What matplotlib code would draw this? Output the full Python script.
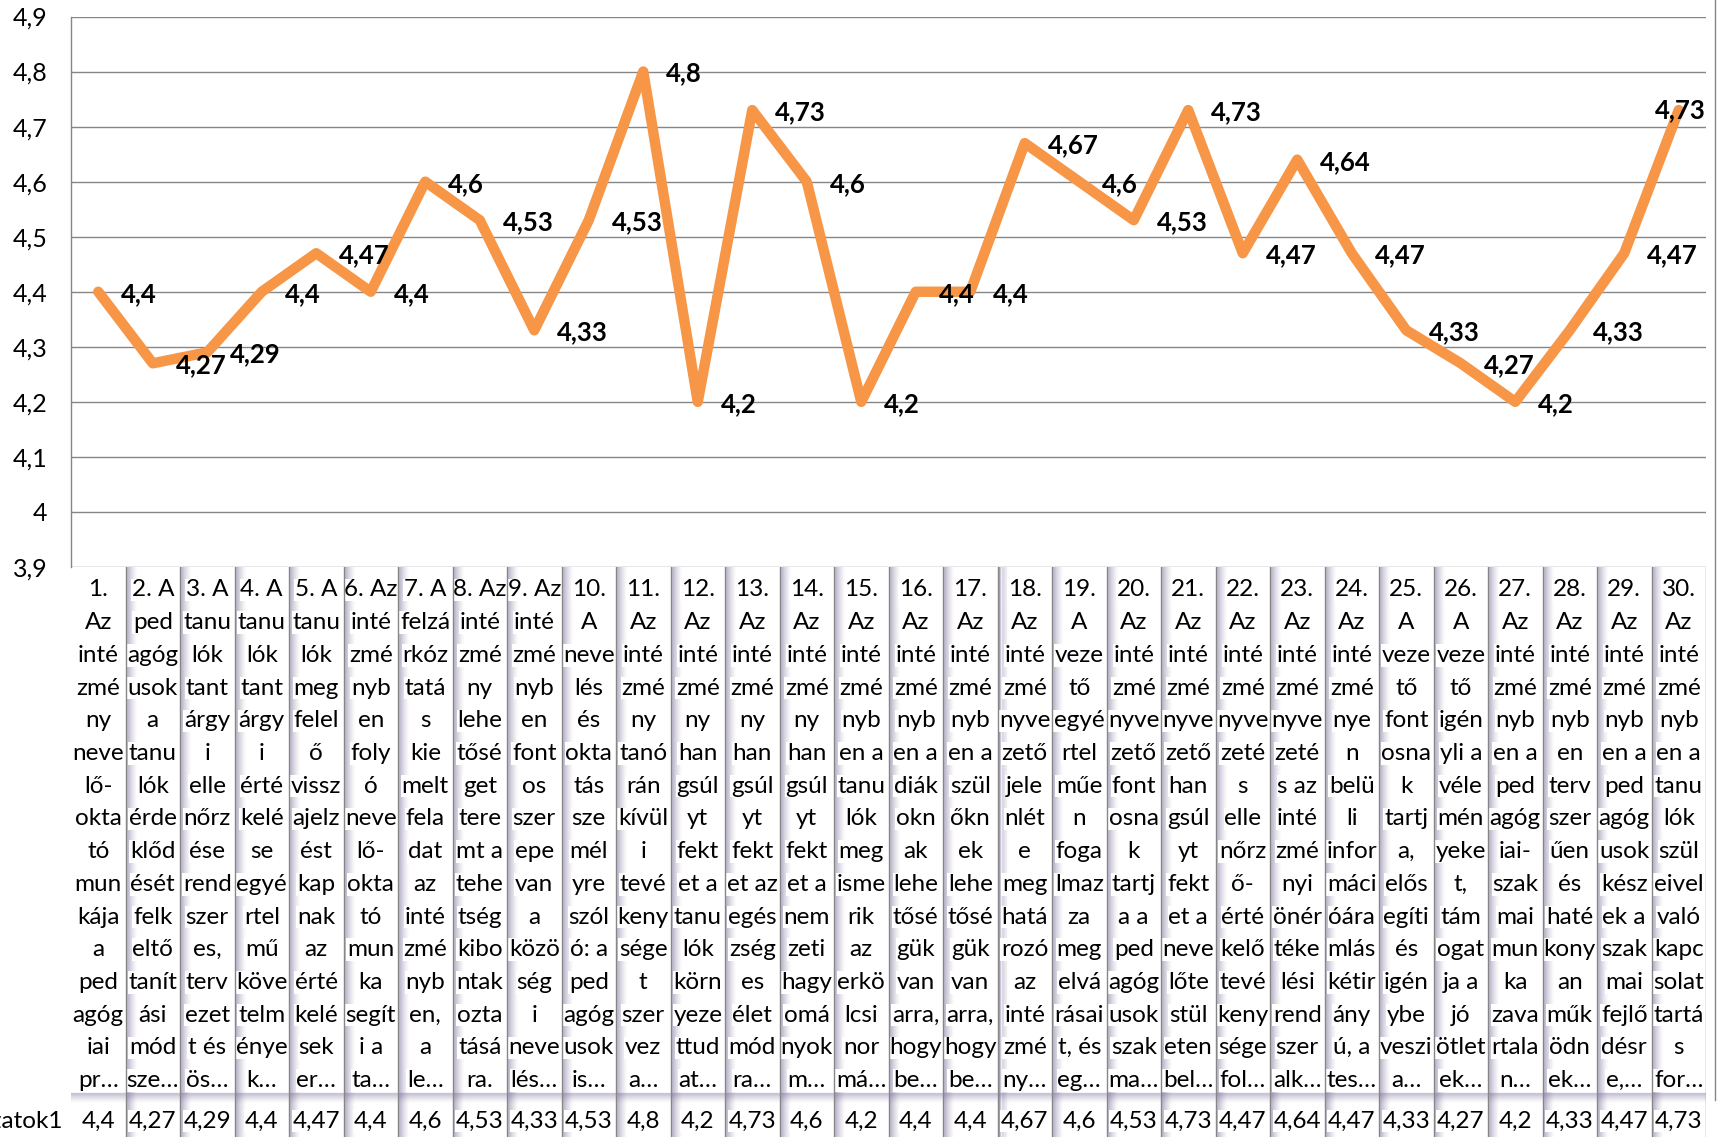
import numpy as np
import matplotlib
matplotlib.use('Agg')
import matplotlib.pyplot as plt
from matplotlib.lines import Line2D

plt.rcParams['font.family'] = ['Lato', 'DejaVu Sans']

# series values (one per question)

series_name = 'Sorozatok1'
values = [4.4, 4.27, 4.29, 4.4, 4.47, 4.4, 4.6, 4.53, 4.33, 4.53,
          4.8, 4.2, 4.73, 4.6, 4.2, 4.4, 4.4, 4.67, 4.6, 4.53,
          4.73, 4.47, 4.64, 4.47, 4.33, 4.27, 4.2, 4.33, 4.47, 4.73]

yticks = [3.9, 4.0, 4.1, 4.2, 4.3, 4.4, 4.5, 4.6, 4.7, 4.8, 4.9]

# category labels, as Excel wrapped them in the data table

categories = [
    ['1.', 'Az', 'inté', 'zmé', 'ny', 'neve', 'lő-', 'okta', 'tó', 'mun', 'kája', 'a', 'ped', 'agóg', 'iai', 'pr…'],
    ['2. A', 'ped', 'agóg', 'usok', 'a', 'tanu', 'lók', 'érde', 'klőd', 'ését', 'felk', 'eltő', 'tanít', 'ási', 'mód', 'sze…'],
    ['3. A', 'tanu', 'lók', 'tant', 'árgy', 'i', 'elle', 'nőrz', 'ése', 'rend', 'szer', 'es,', 'terv', 'ezet', 't és', 'ös…'],
    ['4. A', 'tanu', 'lók', 'tant', 'árgy', 'i', 'érté', 'kelé', 'se', 'egyé', 'rtel', 'mű', 'köve', 'telm', 'énye', 'k…'],
    ['5. A', 'tanu', 'lók', 'meg', 'felel', 'ő', 'vissz', 'ajelz', 'ést', 'kap', 'nak', 'az', 'érté', 'kelé', 'sek', 'er…'],
    ['6. Az', 'inté', 'zmé', 'nyb', 'en', 'foly', 'ó', 'neve', 'lő-', 'okta', 'tó', 'mun', 'ka', 'segít', 'i a', 'ta…'],
    ['7. A', 'felzá', 'rkóz', 'tatá', 's', 'kie', 'melt', 'fela', 'dat', 'az', 'inté', 'zmé', 'nyb', 'en,', 'a', 'le…'],
    ['8. Az', 'inté', 'zmé', 'ny', 'lehe', 'tősé', 'get', 'tere', 'mt a', 'tehe', 'tség', 'kibo', 'ntak', 'ozta', 'tásá', 'ra.'],
    ['9. Az', 'inté', 'zmé', 'nyb', 'en', 'font', 'os', 'szer', 'epe', 'van', 'a', 'közö', 'ség', 'i', 'neve', 'lés…'],
    ['10.', 'A', 'neve', 'lés', 'és', 'okta', 'tás', 'sze', 'mél', 'yre', 'szól', 'ó: a', 'ped', 'agóg', 'usok', 'is…'],
    ['11.', 'Az', 'inté', 'zmé', 'ny', 'tanó', 'rán', 'kívül', 'i', 'tevé', 'keny', 'sége', 't', 'szer', 'vez', 'a…'],
    ['12.', 'Az', 'inté', 'zmé', 'ny', 'han', 'gsúl', 'yt', 'fekt', 'et a', 'tanu', 'lók', 'körn', 'yeze', 'ttud', 'at…'],
    ['13.', 'Az', 'inté', 'zmé', 'ny', 'han', 'gsúl', 'yt', 'fekt', 'et az', 'egés', 'zség', 'es', 'élet', 'mód', 'ra…'],
    ['14.', 'Az', 'inté', 'zmé', 'ny', 'han', 'gsúl', 'yt', 'fekt', 'et a', 'nem', 'zeti', 'hagy', 'omá', 'nyok', 'm…'],
    ['15.', 'Az', 'inté', 'zmé', 'nyb', 'en a', 'tanu', 'lók', 'meg', 'isme', 'rik', 'az', 'erkö', 'lcsi', 'nor', 'má…'],
    ['16.', 'Az', 'inté', 'zmé', 'nyb', 'en a', 'diák', 'okn', 'ak', 'lehe', 'tősé', 'gük', 'van', 'arra,', 'hogy', 'be…'],
    ['17.', 'Az', 'inté', 'zmé', 'nyb', 'en a', 'szül', 'őkn', 'ek', 'lehe', 'tősé', 'gük', 'van', 'arra,', 'hogy', 'be…'],
    ['18.', 'Az', 'inté', 'zmé', 'nyve', 'zető', 'jele', 'nlét', 'e', 'meg', 'hatá', 'rozó', 'az', 'inté', 'zmé', 'ny…'],
    ['19.', 'A', 'veze', 'tő', 'egyé', 'rtel', 'műe', 'n', 'foga', 'lmaz', 'za', 'meg', 'elvá', 'rásai', 't, és', 'eg…'],
    ['20.', 'Az', 'inté', 'zmé', 'nyve', 'zető', 'font', 'osna', 'k', 'tartj', 'a a', 'ped', 'agóg', 'usok', 'szak', 'ma…'],
    ['21.', 'Az', 'inté', 'zmé', 'nyve', 'zető', 'han', 'gsúl', 'yt', 'fekt', 'et a', 'neve', 'lőte', 'stül', 'eten', 'bel…'],
    ['22.', 'Az', 'inté', 'zmé', 'nyve', 'zeté', 's', 'elle', 'nőrz', 'ő-', 'érté', 'kelő', 'tevé', 'keny', 'sége', 'fol…'],
    ['23.', 'Az', 'inté', 'zmé', 'nyve', 'zeté', 's az', 'inté', 'zmé', 'nyi', 'önér', 'téke', 'lési', 'rend', 'szer', 'alk…'],
    ['24.', 'Az', 'inté', 'zmé', 'nye', 'n', 'belü', 'li', 'infor', 'máci', 'óára', 'mlás', 'kétir', 'ány', 'ú, a', 'tes…'],
    ['25.', 'A', 'veze', 'tő', 'font', 'osna', 'k', 'tartj', 'a,', 'elős', 'egíti', 'és', 'igén', 'ybe', 'veszi', 'a…'],
    ['26.', 'A', 'veze', 'tő', 'igén', 'yli a', 'véle', 'mén', 'yeke', 't,', 'tám', 'ogat', 'ja a', 'jó', 'ötlet', 'ek…'],
    ['27.', 'Az', 'inté', 'zmé', 'nyb', 'en a', 'ped', 'agóg', 'iai-', 'szak', 'mai', 'mun', 'ka', 'zava', 'rtala', 'n…'],
    ['28.', 'Az', 'inté', 'zmé', 'nyb', 'en', 'terv', 'szer', 'űen', 'és', 'haté', 'kony', 'an', 'műk', 'ödn', 'ek…'],
    ['29.', 'Az', 'inté', 'zmé', 'nyb', 'en a', 'ped', 'agóg', 'usok', 'kész', 'ek a', 'szak', 'mai', 'fejlő', 'désr', 'e,…'],
    ['30.', 'Az', 'inté', 'zmé', 'nyb', 'en a', 'tanu', 'lók', 'szül', 'eivel', 'való', 'kapc', 'solat', 'tartá', 's', 'for…'],
]


def fmt(v):
    return ('%g' % v).replace('.', ',')


W, H = 1720, 1137
fig = plt.figure(figsize=(W / 100, H / 100), dpi=100)

# pixel layout of the plot area
x0, x1 = 71, 1706
ytop, ybot = 16.5, 567

ax = fig.add_axes([x0 / W, 1 - ybot / H, (x1 - x0) / W, (ybot - ytop) / H])
n = len(values)
xs = np.arange(n) + 0.5
ax.set_xlim(0, n)
ax.set_ylim(3.9, 4.9)
ax.set_yticks(yticks)
ax.set_yticklabels([fmt(t) for t in yticks], fontsize=18)
ax.set_xticks([])
ax.tick_params(axis='y', length=0, pad=17)
for s in ['top', 'right', 'bottom']:
    ax.spines[s].set_visible(False)
ax.spines['left'].set_color('#868686')
ax.spines['left'].set_linewidth(1.0)
ax.yaxis.grid(True, color='#868686', linewidth=1.0)
ax.set_axisbelow(True)

ax.plot(xs, values, color='#F79646', linewidth=7.5,
        solid_capstyle='round', solid_joinstyle='round', zorder=3)

# data labels to the right of each point (last one kept inside the plot)
for i, v in enumerate(values):
    if i == n - 1:
        ax.annotate(fmt(v), xy=(1.0, v), xycoords=('axes fraction', 'data'),
                    ha='right', va='center', fontsize=18.5, fontweight='bold',
                    zorder=4)
    else:
        ax.annotate(fmt(v), xy=(xs[i], v), xytext=(16.5, -1.5),
                    textcoords='offset points', ha='left', va='center',
                    fontsize=18.5, fontweight='bold', zorder=4)

# data table below the plot, in pixel rows
tab = fig.add_axes([x0 / W, 0, (x1 - x0) / W, 1 - ybot / H])
tab.set_xlim(0, n)
tab.set_ylim(H, ybot)
tab.axis('off')

colw = (x1 - x0) / n
shade = (0.42, 0.37, 0.56)
for b in range(1, n + 1):
    for k in range(1, 11):
        tab.plot([b + k / colw, b + k / colw], [ybot, H], color=shade,
                 alpha=0.42 * (1 - k / 11) ** 1.5, linewidth=1.0, zorder=1)
    tab.plot([b, b], [ybot, H], color='#868686', linewidth=1.0, zorder=5)

for k in range(0, 10):
    tab.plot([0, n], [1093 + k, 1093 + k], color=shade,
             alpha=0.32 * (1 - k / 10) ** 1.5, linewidth=1.0, zorder=1)

box = dict(facecolor='white', edgecolor='none', pad=0.5)
line0, step = 590, 32.7
for i, lines in enumerate(categories):
    for j, t in enumerate(lines):
        tab.text(xs[i], line0 + j * step, t, ha='center', va='center',
                 fontsize=17.5, bbox=box, zorder=3, clip_on=False)
    tab.text(xs[i], 1121, fmt(values[i]), ha='center', va='center',
             fontsize=17.5, bbox=box, zorder=3, clip_on=False)

tab.text(-8 / colw, 1121, series_name, ha='right', va='center',
         fontsize=17.5, bbox=box, zorder=3, clip_on=False)

# outer chart border on the right
fig.add_artist(Line2D([1715 / W, 1715 / W], [1 - 1100 / H, 1],
                      color='#868686', linewidth=1.0))

fig.savefig('out.png', dpi=100)
